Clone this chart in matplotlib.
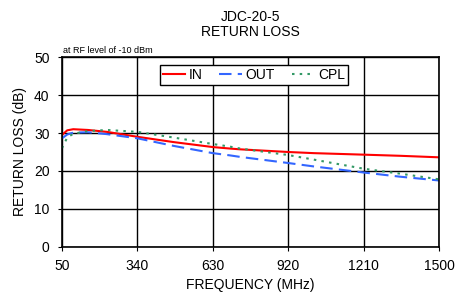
import numpy as np
import matplotlib.pyplot as plt

plt.rcParams['font.family'] = ['Liberation Sans', 'DejaVu Sans']

# data
freq = [50, 70, 93, 150, 223, 340, 480, 630, 697, 736, 920, 1018, 1210, 1350, 1500]
rl_in = [29.5, 30.7, 31.0, 30.8, 30.3, 29.0, 27.6, 26.3, 25.9, 25.7, 25.0, 24.7, 24.3, 24.0, 23.6]
rl_out = [28.6, 29.6, 30.1, 30.2, 29.7, 28.6, 26.6, 24.7, 24.1, 23.7, 22.1, 21.2, 19.6, 18.5, 17.5]
rl_cpl = [26.0, 28.8, 29.8, 30.5, 30.8, 30.3, 28.8, 27.1, 26.4, 25.9, 24.2, 23.0, 20.6, 19.3, 17.8]
xticks = [50, 340, 630, 920, 1210, 1500]
yticks = [0, 10, 20, 30, 40, 50]

fig = plt.figure(figsize=(4.57, 2.94), dpi=100)
ax = fig.add_axes([0.1357, 0.16, 0.825, 0.646])

ax.plot(freq, rl_in, color='#ff0000', lw=1.5, label='IN')
ax.plot(freq, rl_out, color='#3366ff', lw=1.5, ls=(0, (6, 3)), label='OUT')
ax.plot(freq, rl_cpl, color='#339966', lw=1.5, ls=(0, (1.2, 2.5)), label='CPL')

ax.set_xlim(50, 1500)
ax.set_ylim(0, 50)
ax.set_xticks(xticks)
ax.set_yticks(yticks)
ax.grid(True, color='black', lw=1)
ax.tick_params(labelsize=10, length=3, color='black', pad=6)
for s in ax.spines.values():
    s.set_linewidth(1.2)

ax.set_xlabel('FREQUENCY (MHz)', fontsize=10, labelpad=3)
ax.set_ylabel('RETURN LOSS (dB)', fontsize=10, labelpad=5)
fig.text(0.548, 0.965, 'JDC-20-5\nRETURN LOSS', ha='center', va='top', fontsize=10, linespacing=1.1)
ax.text(0.003, 1.01, 'at RF level of -10 dBm', transform=ax.transAxes, fontsize=6.5, va='bottom')

leg = ax.legend(loc='upper center', bbox_to_anchor=(0.509, 0.958), ncol=3, fontsize=10,
                frameon=True, fancybox=False, edgecolor='black', framealpha=1,
                handlelength=1.6, handletextpad=0.3, columnspacing=1.2,
                borderpad=0.2, borderaxespad=0)
leg.get_frame().set_linewidth(1)

fig.savefig('out.png', dpi=100)
